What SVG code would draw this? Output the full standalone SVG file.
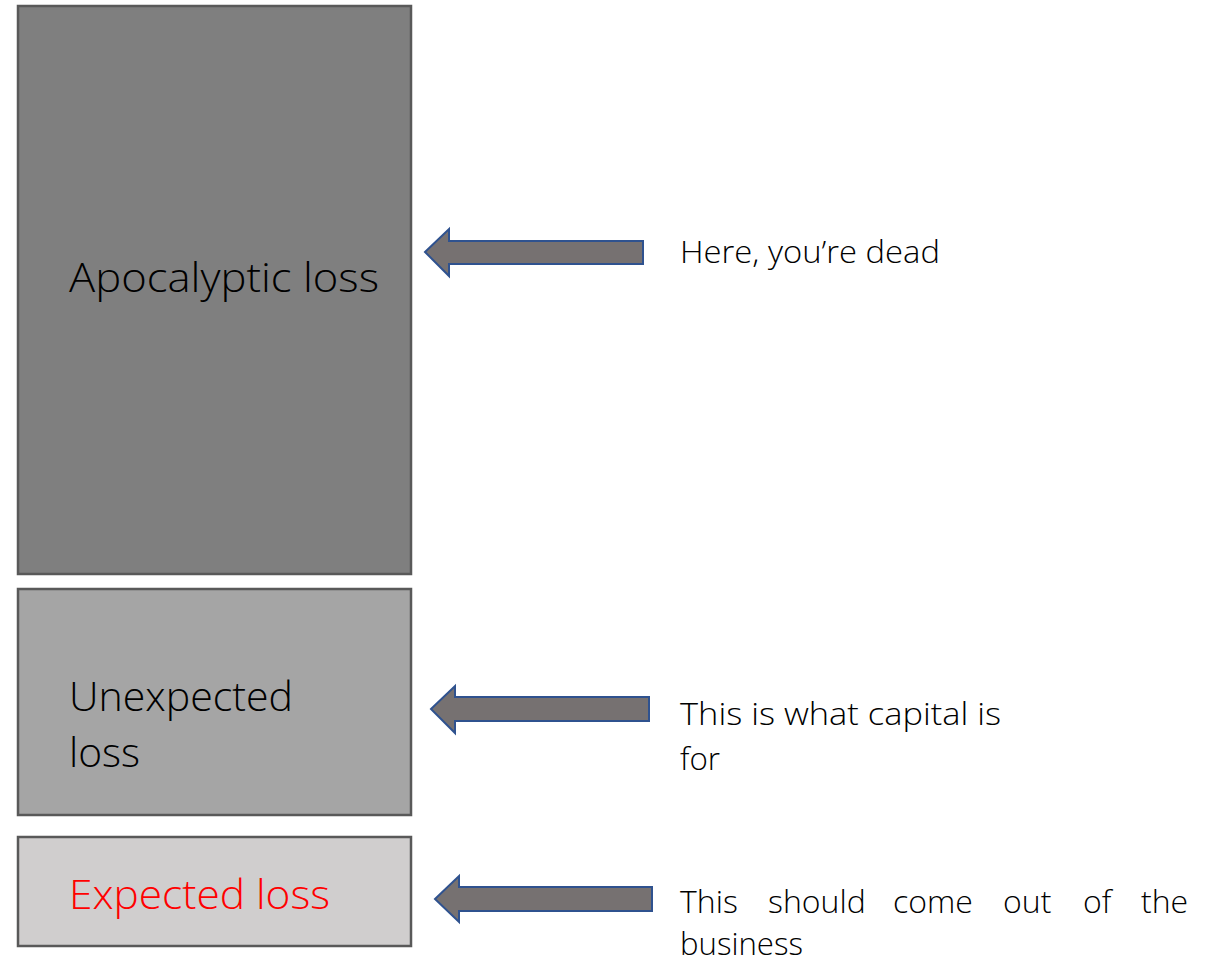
<svg xmlns="http://www.w3.org/2000/svg" width="1214" height="961" viewBox="0 0 1214 961">
<style>
.box{stroke:#595959;stroke-width:2.5}
.arrow{fill:#767171;stroke:#2f528f;stroke-width:2}
.t{font-family:"Open Sans","Liberation Sans",sans-serif;font-weight:300;fill:#000}
.big{font-size:41px}
.small{font-size:32px}
</style>
<rect width="1214" height="961" fill="#fff"/>
<g id="apocalyptic">
<rect class="box" x="18" y="6" width="393" height="568" fill="#7f7f7f"/>
<text class="t big" x="69" y="292" textLength="310" lengthAdjust="spacingAndGlyphs">Apocalyptic loss</text>
</g>
<g id="unexpected">
<rect class="box" x="18" y="589" width="393" height="226" fill="#a5a5a5"/>
<text class="t big" x="69" y="711" textLength="224" lengthAdjust="spacingAndGlyphs">Unexpected</text>
<text class="t big" x="69" y="767" textLength="71" lengthAdjust="spacingAndGlyphs">loss</text>
</g>
<g id="expected">
<rect class="box" x="18" y="837" width="393" height="109" fill="#d0cece"/>
<text class="t big" x="69" y="909" style="fill:#ff0000" textLength="261" lengthAdjust="spacingAndGlyphs">Expected loss</text>
</g>
<g id="connectors">
<polygon class="arrow" points="425,252 449,229 449,241 643,241 643,264 449,264 449,276"/>
<polygon class="arrow" points="431,709 455,686 455,697 649,697 649,721 455,721 455,733"/>
<polygon class="arrow" points="435,899 459,876 459,887 652,887 652,911 459,911 459,922"/>
</g>
<g id="label-dead">
<text class="t small" x="680" y="263" textLength="260" lengthAdjust="spacingAndGlyphs">Here, you’re dead</text>
</g>
<g id="label-capital">
<text class="t small" x="680" y="725" textLength="321" lengthAdjust="spacingAndGlyphs">This is what capital is</text>
<text class="t small" x="680" y="770" textLength="40" lengthAdjust="spacingAndGlyphs">for</text>
</g>
<g id="label-business">
<text class="t small" y="913"><tspan x="680">This</tspan><tspan x="768">should</tspan><tspan x="893">come</tspan><tspan x="1003">out</tspan><tspan x="1083">of</tspan><tspan x="1141">the</tspan></text>
<text class="t small" x="680" y="955" textLength="123" lengthAdjust="spacingAndGlyphs">business</text>
</g>
</svg>
